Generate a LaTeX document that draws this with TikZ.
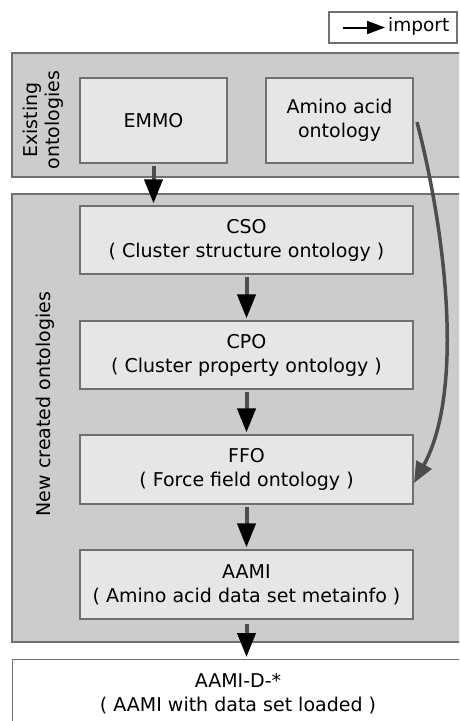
\documentclass[tikz,border=0pt]{standalone}
\usepackage{fontspec}
\setmainfont{DejaVu Sans}
\usetikzlibrary{arrows.meta}
\definecolor{panelfill}{HTML}{CCCCCC}
\definecolor{boxfill}{HTML}{E6E6E6}
\definecolor{edge}{HTML}{707070}
\definecolor{shaft}{HTML}{4D4D4D}
\tikzset{
  panel/.style={draw=edge, line width=1.2pt, fill=panelfill},
  onto/.style={draw=edge, line width=1.2pt, fill=boxfill, align=center,
    inner sep=0pt, font=\fontsize{19}{24}\selectfont},
  sidelabel/.style={rotate=90, align=center, inner sep=0pt,
    font=\fontsize{19}{22}\selectfont},
  imports/.style={draw=shaft, line width=4pt,
    -{Triangle[length=24pt,width=18pt,black]}},
  curvedimport/.style={draw=shaft, line width=3.5pt,
    -{Triangle[length=21pt,width=17pt,shaft]}},
}
\begin{document}
\begin{tikzpicture}[x=1pt,y=-1pt]
\useasboundingbox (0,0) rectangle (459,721);
\clip (0,0) rectangle (459,721);

% legend
\node[draw=edge, line width=1.2pt, fill=white, minimum width=128pt,
  minimum height=31pt, inner sep=0pt] (legend) at (393,27.5) {};
\coordinate (lgA) at (343,27.5);
\coordinate (lgB) at (385,27.5);
\draw[line width=2pt, -{Triangle[length=18pt,width=13pt,black]}] (lgA) -- (lgB);
\node[anchor=west, inner sep=0pt, font=\fontsize{18.5}{22}\selectfont]
  (lgtext) at (388,26.5) {import};

% grouping panels
\draw[panel] (12,53) rectangle (464,177);
\draw[panel] (12,194) rectangle (464,642);
\node[sidelabel] (existing) at (43,120) {Existing\\ontologies};
\node[sidelabel] (created) at (45,404) {New created ontologies};

% ontology boxes
\node[onto, minimum width=147pt, minimum height=85pt] (emmo) at (153.5,120.5) {EMMO};
\node[onto, minimum width=147pt, minimum height=85pt] (amino) at (339.5,120.5) {Amino acid\\ontology};
\node[onto, minimum width=333pt, minimum height=68pt] (cso) at (246.5,240) {CSO\\( Cluster structure ontology )};
\node[onto, minimum width=333pt, minimum height=68pt] (cpo) at (246.5,355) {CPO\\( Cluster property ontology )};
\node[onto, minimum width=333pt, minimum height=69pt] (ffo) at (246.5,469.5) {FFO\\( Force field ontology )};
\node[onto, minimum width=333pt, minimum height=69pt] (aami) at (246.5,584.5) {AAMI\\( Amino acid data set metainfo )};
\node[draw=edge, line width=1.2pt, fill=white, minimum width=452pt,
  minimum height=80pt, anchor=north west, inner sep=0pt] (aamid) at (12,659) {};
\node[align=center, inner sep=0pt, font=\fontsize{19}{24}\selectfont,
  anchor=north] (aamidtext) at (238,673) {AAMI-D-*\\( AAMI with data set loaded )};

% import arrows
\draw[imports, shorten <=2pt, shorten >=2pt] (emmo.south) -- (emmo.south |- cso.north);
\draw[imports, shorten <=2pt, shorten >=2pt] (cso) -- (cpo);
\draw[imports, shorten <=2pt, shorten >=2pt] (cpo) -- (ffo);
\draw[imports, shorten <=2pt, shorten >=2pt] (ffo) -- (aami);
\draw[imports, shorten <=4pt, shorten >=2pt] (aami.south) -- (aami.south |- aamid.north);
\coordinate (curveStart) at (417,122);
\coordinate (curveEnd) at (414,483);
\draw[curvedimport] (curveStart) .. controls (445,230) and (465,390) .. (curveEnd);
\end{tikzpicture}
\end{document}
